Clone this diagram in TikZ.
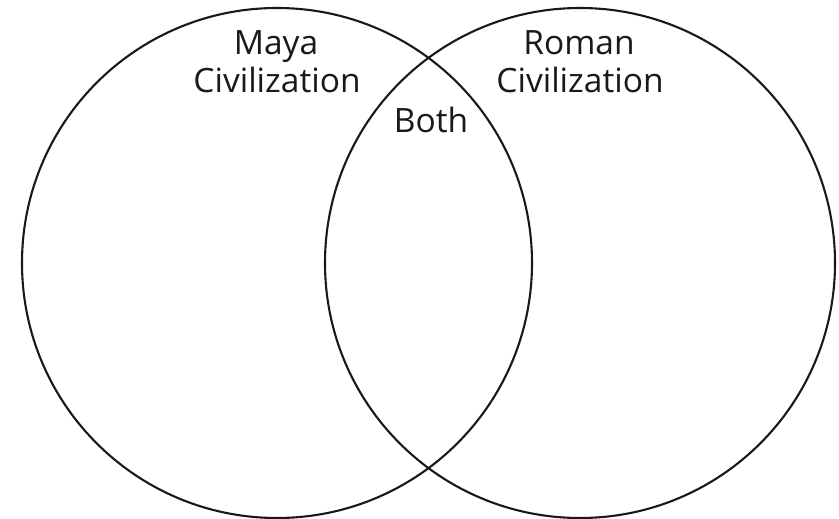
\documentclass[tikz,border=0pt]{standalone}
\usepackage{fontspec}
\setmainfont{Open Sans}
\begin{document}
\begin{tikzpicture}[x=1pt,y=-1pt,
  ring/.style={draw=black!90,line width=2.1pt},
  lbl/.style={anchor=base,inner sep=0pt,font=\fontsize{33.5}{40}\selectfont,text=black!90}]
\useasboundingbox (0,0) rectangle (839,519);
\node[ring,circle,minimum size=510pt,inner sep=0pt] (maya) at (277,263) {};
\node[ring,circle,minimum size=510pt,inner sep=0pt] (roman) at (580,263) {};
\node[lbl] (t1) at (276,55) {Maya};
\node[lbl] (t2) at (277,93) {Civilization};
\node[lbl] (t3) at (579,55) {Roman};
\node[lbl] (t4) at (580,93) {Civilization};
\node[lbl] (t5) at (431,132) {Both};
\end{tikzpicture}
\end{document}
